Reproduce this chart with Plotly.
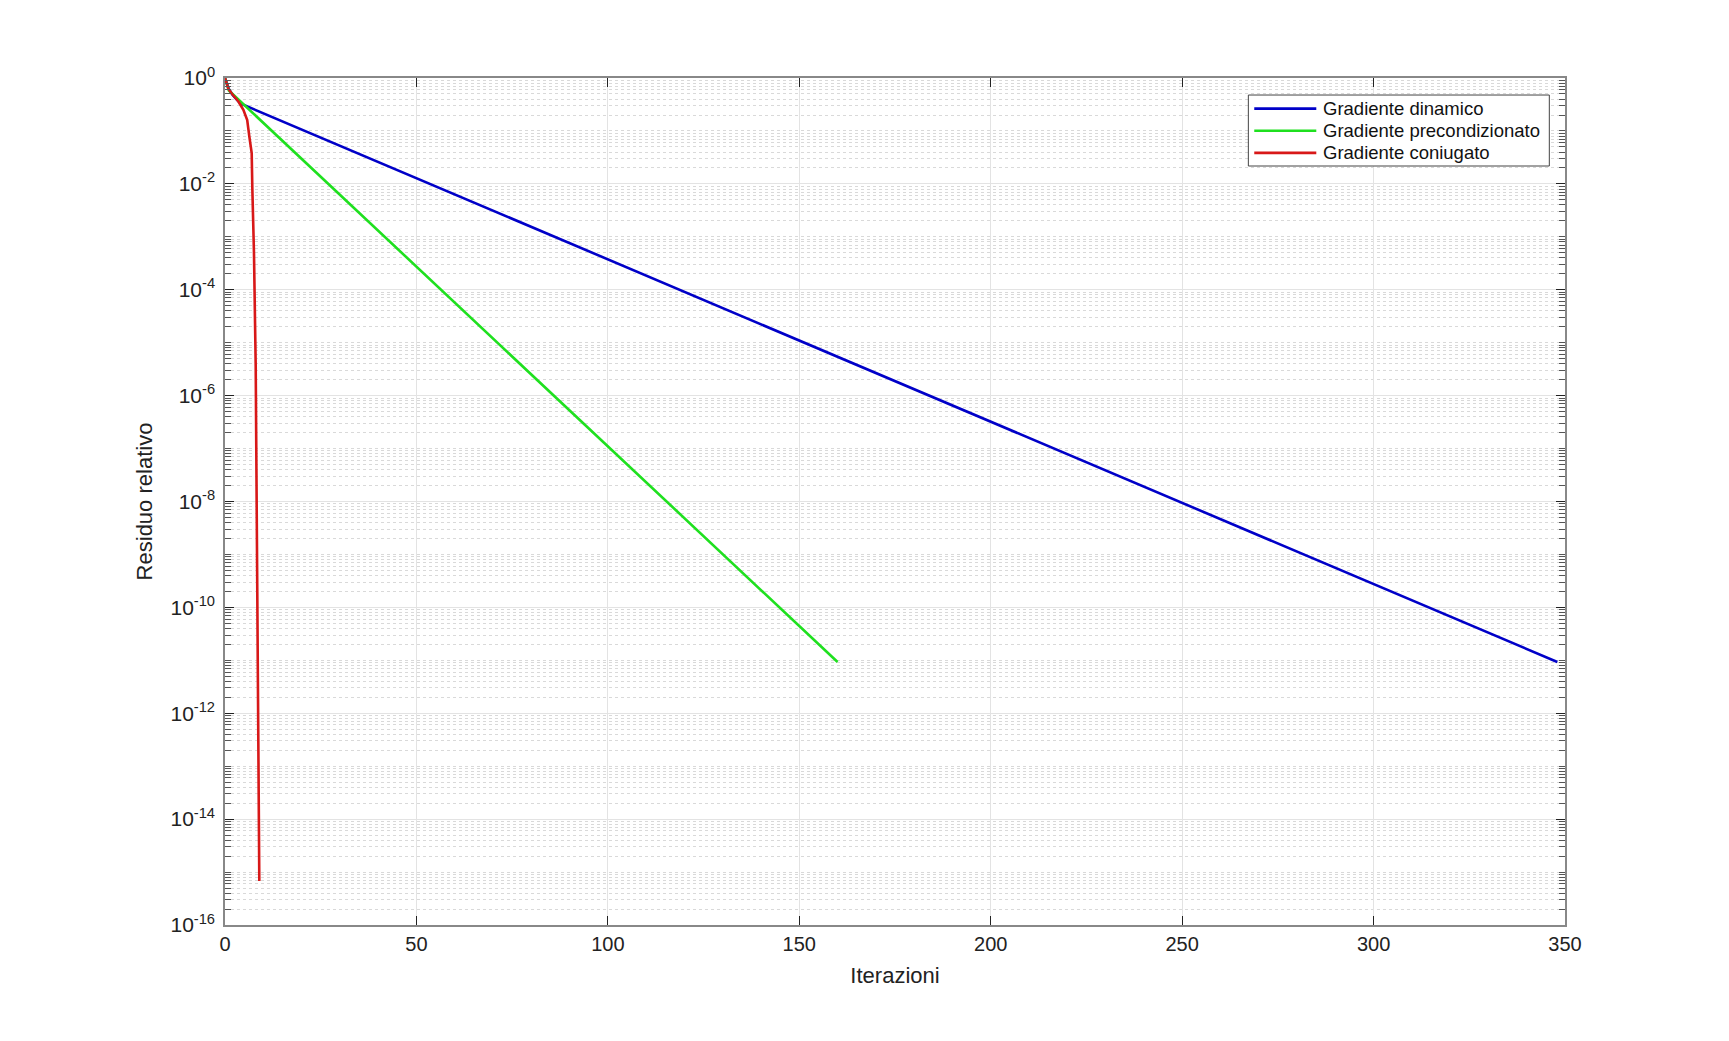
import plotly.graph_objects as go

# ---- data ----
blue_x = [0, 1, 2, 3, 4, 348]
blue_y = [1.0, 0.62, 0.48, 0.39, 0.33, 9.3e-12]

green_x = [0, 1, 160]
green_y = [1.0, 0.58, 9.3e-12]

red_x = [0, 0.87, 1.75, 3.5, 4.8, 5.8, 6.35, 6.97, 7.13, 7.57, 8.02, 8.44, 8.54, 8.96]
red_y = [1.0, 0.63, 0.51, 0.36, 0.25, 0.16, 0.079, 0.038, 8.7e-3, 4.9e-4,
         3.5e-6, 1.0e-10, 3.0e-13, 6.8e-16]

series_names = ["Gradiente dinamico", "Gradiente precondizionato", "Gradiente coniugato"]
series_colors = ["#0000c8", "#1fe01f", "#d81818"]

x_ticks = [0, 50, 100, 150, 200, 250, 300, 350]
y_major_exp = [0, -2, -4, -6, -8, -10, -12, -14, -16]

x_title = "Iterazioni"
y_title = "Residuo relativo"

# ---- figure ----
FONT = "Liberation Sans, Arial, Helvetica, sans-serif"
LW = 2.6

fig = go.Figure()
for xs, ys, name, col in zip([blue_x, green_x, red_x], [blue_y, green_y, red_y],
                             series_names, series_colors):
    fig.add_trace(go.Scatter(x=xs, y=ys, mode="lines", name=name, showlegend=False,
                             line=dict(color=col, width=LW)))

y_tickvals = [10.0 ** e for e in y_major_exp]
y_ticktext = ["10<sup>%d</sup>" % e for e in y_major_exp]
minor_vals = []
for e in range(-16, 0):
    for m in range(1, 10):
        v = m * 10.0 ** e
        if not (m == 1 and e in y_major_exp):
            minor_vals.append(v)

# legend box (MATLAB style) in paper coordinates
DX = -0.005
LEG_X0, LEG_X1, LEG_Y0, LEG_Y1 = 0.7687 + DX, 0.9933 + DX, 0.8961, 0.9799
ROW_Y = [0.9639, 0.9378, 0.9116]
SAMPLE_X0, SAMPLE_X1, TEXT_X = 0.7731 + DX, 0.8194 + DX, 0.8231 + DX

shapes = [dict(type="rect", xref="paper", yref="paper",
               x0=LEG_X0, x1=LEG_X1, y0=LEG_Y0, y1=LEG_Y1,
               line=dict(color="#444", width=1), fillcolor="white", layer="above")]
annotations = []
for name, col, ry in zip(series_names, series_colors, ROW_Y):
    shapes.append(dict(type="line", xref="paper", yref="paper",
                       x0=SAMPLE_X0, x1=SAMPLE_X1, y0=ry, y1=ry,
                       line=dict(color=col, width=LW), layer="above"))
    annotations.append(dict(xref="paper", yref="paper", x=TEXT_X, y=ry,
                            xanchor="left", yanchor="middle", showarrow=False,
                            text=name, font=dict(size=18.5, color="#111")))

fig.update_layout(
    width=1729, height=1041,
    margin=dict(l=225, r=164, t=78, b=116),
    paper_bgcolor="white", plot_bgcolor="white",
    font=dict(family=FONT, size=20, color="#222"),
    showlegend=False,
    shapes=shapes,
    annotations=annotations,
)

fig.update_xaxes(
    range=[0, 350], tickvals=x_ticks,
    showline=True, linecolor="#888", linewidth=1.5, mirror="ticks",
    ticks="inside", ticklen=9, tickcolor="#222", tickwidth=1,
    showgrid=True, gridcolor="#e3e3e3", gridwidth=1,
    zeroline=False,
    tickfont=dict(size=20, color="#222"),
    title=dict(text=x_title, font=dict(size=22, color="#222"), standoff=14),
)

fig.update_yaxes(
    type="log", range=[-16, 0],
    tickmode="array", tickvals=y_tickvals, ticktext=y_ticktext,
    showline=True, linecolor="#888", linewidth=1.5, mirror="ticks",
    ticks="inside", ticklen=9, tickcolor="#222", tickwidth=1,
    showgrid=True, gridcolor="#e3e3e3", gridwidth=1,
    zeroline=False,
    tickfont=dict(size=21, color="#222"),
    ticklabelstandoff=4,
    minor=dict(tickmode="array", tickvals=minor_vals, ticks="inside", ticklen=6,
               tickcolor="#555", tickwidth=1, showgrid=True,
               gridcolor="#d9d9d9", griddash="dot", gridwidth=1),
    title=dict(text=y_title, font=dict(size=22, color="#222"), standoff=12),
)

fig.write_html("out.html", config={"displayModeBar": False},
               post_script="document.body.style.margin='0';")
